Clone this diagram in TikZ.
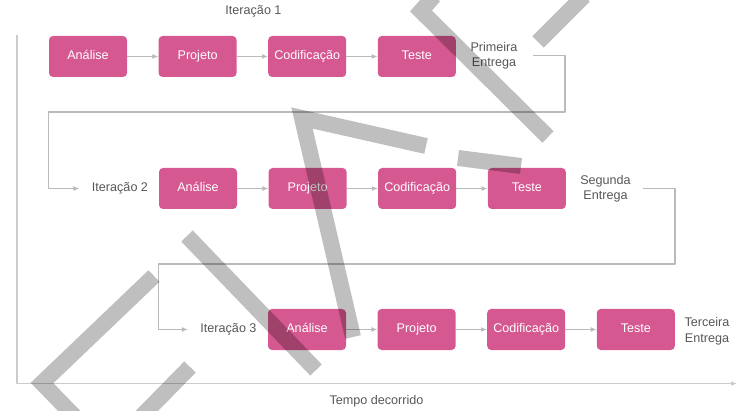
\documentclass[tikz,border=0pt]{standalone}
\usepackage{fontspec}
\setmainfont{Liberation Sans}
\usepackage{tikz}
\usetikzlibrary{arrows.meta,calc,positioning}
\definecolor{boxcol}{RGB}{214,88,145}
\colorlet{linecol}{black!27}
\colorlet{axiscol}{black!20}
\colorlet{txtcol}{black!66}

\begin{document}
\begin{tikzpicture}[x=1pt, y=-1pt,
        line join=round,
        stage/.style={fill=boxcol, rounded corners=4pt, minimum width=78pt,
                minimum height=41pt, inner sep=0pt, text=white,
                text height=9pt, text depth=2pt,
                font=\fontsize{12.6}{15.5}\selectfont},
        note/.style={text=txtcol, align=center, font=\fontsize{12.6}{15.5}\selectfont},
        link/.style={linecol, line width=1.2pt, -{Latex[length=6pt,width=5pt]}},
        axis/.style={axiscol, line width=1.2pt, -{Latex[length=6pt,width=5pt]}},
        wmark/.style={black, opacity=0.25, line width=16pt, line join=miter}]
        \useasboundingbox (0,0) rectangle (749,411);
        \def\dx{109.6}

        % stages of the three iterations
        \foreach \txt [count=\i] in {Análise,Projeto,Codificação,Teste}{
        \node[stage] (a\i) at ({88+(\i-1)*\dx},56.5) {\txt};
        \node[stage] (b\i) at ({198+(\i-1)*\dx},188.5) {\txt};
        \node[stage] (c\i) at ({307+(\i-1)*\dx},329.5) {\txt};
        }
        \foreach \i [count=\j from 2] in {1,2,3}{
        \draw[link] (a\i) -- (a\j);
        \draw[link] (b\i) -- (b\j);
        \draw[link] (c\i) -- (c\j);
        }

        % iteration and delivery labels
        \node[note] (it1) at (253.5,11) {Iteração 1};
        \node[note] (del1) at (494,55.5) {Primeira\\Entrega};
        \node[note] (it2) at (120,188.5) {Iteração 2};
        \node[note] (del2) at (605.5,188.5) {Segunda\\Entrega};
        \node[note] (it3) at (228.5,329.5) {Iteração 3};
        \node[note] (del3) at (707,331) {Terceira\\Entrega};

        % going back for the next iteration
        \coordinate (turn1) at (565,112);
        \coordinate (turn2) at (675,264);
        \draw[link] ([xshift=12pt]del1.east) -| (turn1) -- (turn1 -| a1.west) |- ([xshift=-9pt]it2.west);
        \draw[link] ([xshift=9pt]del2.east) -| (turn2) -- (turn2 -| b1.west) |- ([xshift=-9pt]it3.west);

        % time axis
        \coordinate (ttop) at (17,35);
        \coordinate (origin) at (17,383.5);
        \coordinate (tend) at (737,383.5);
        \draw[axis] (ttop) -- (origin) -- (tend);
        \node[note] (time) at (376.5,401) {Tempo decorrido};

        % watermark strokes
        \draw[wmark] (434,-4) -- (421,11) -- (548,137);
        \draw[wmark] (584,-4) -- (538,42);
        \draw[wmark] (353,337) -- (302,118) -- (426,146);
        \draw[wmark] (458,158) -- (521,166);
        \draw[wmark] (187,236) -- (316,370);
        \draw[wmark] (154,276) -- (42,383) -- (82,424);
        \draw[wmark] (190,367) -- (134,424);
\end{tikzpicture}
\end{document}
